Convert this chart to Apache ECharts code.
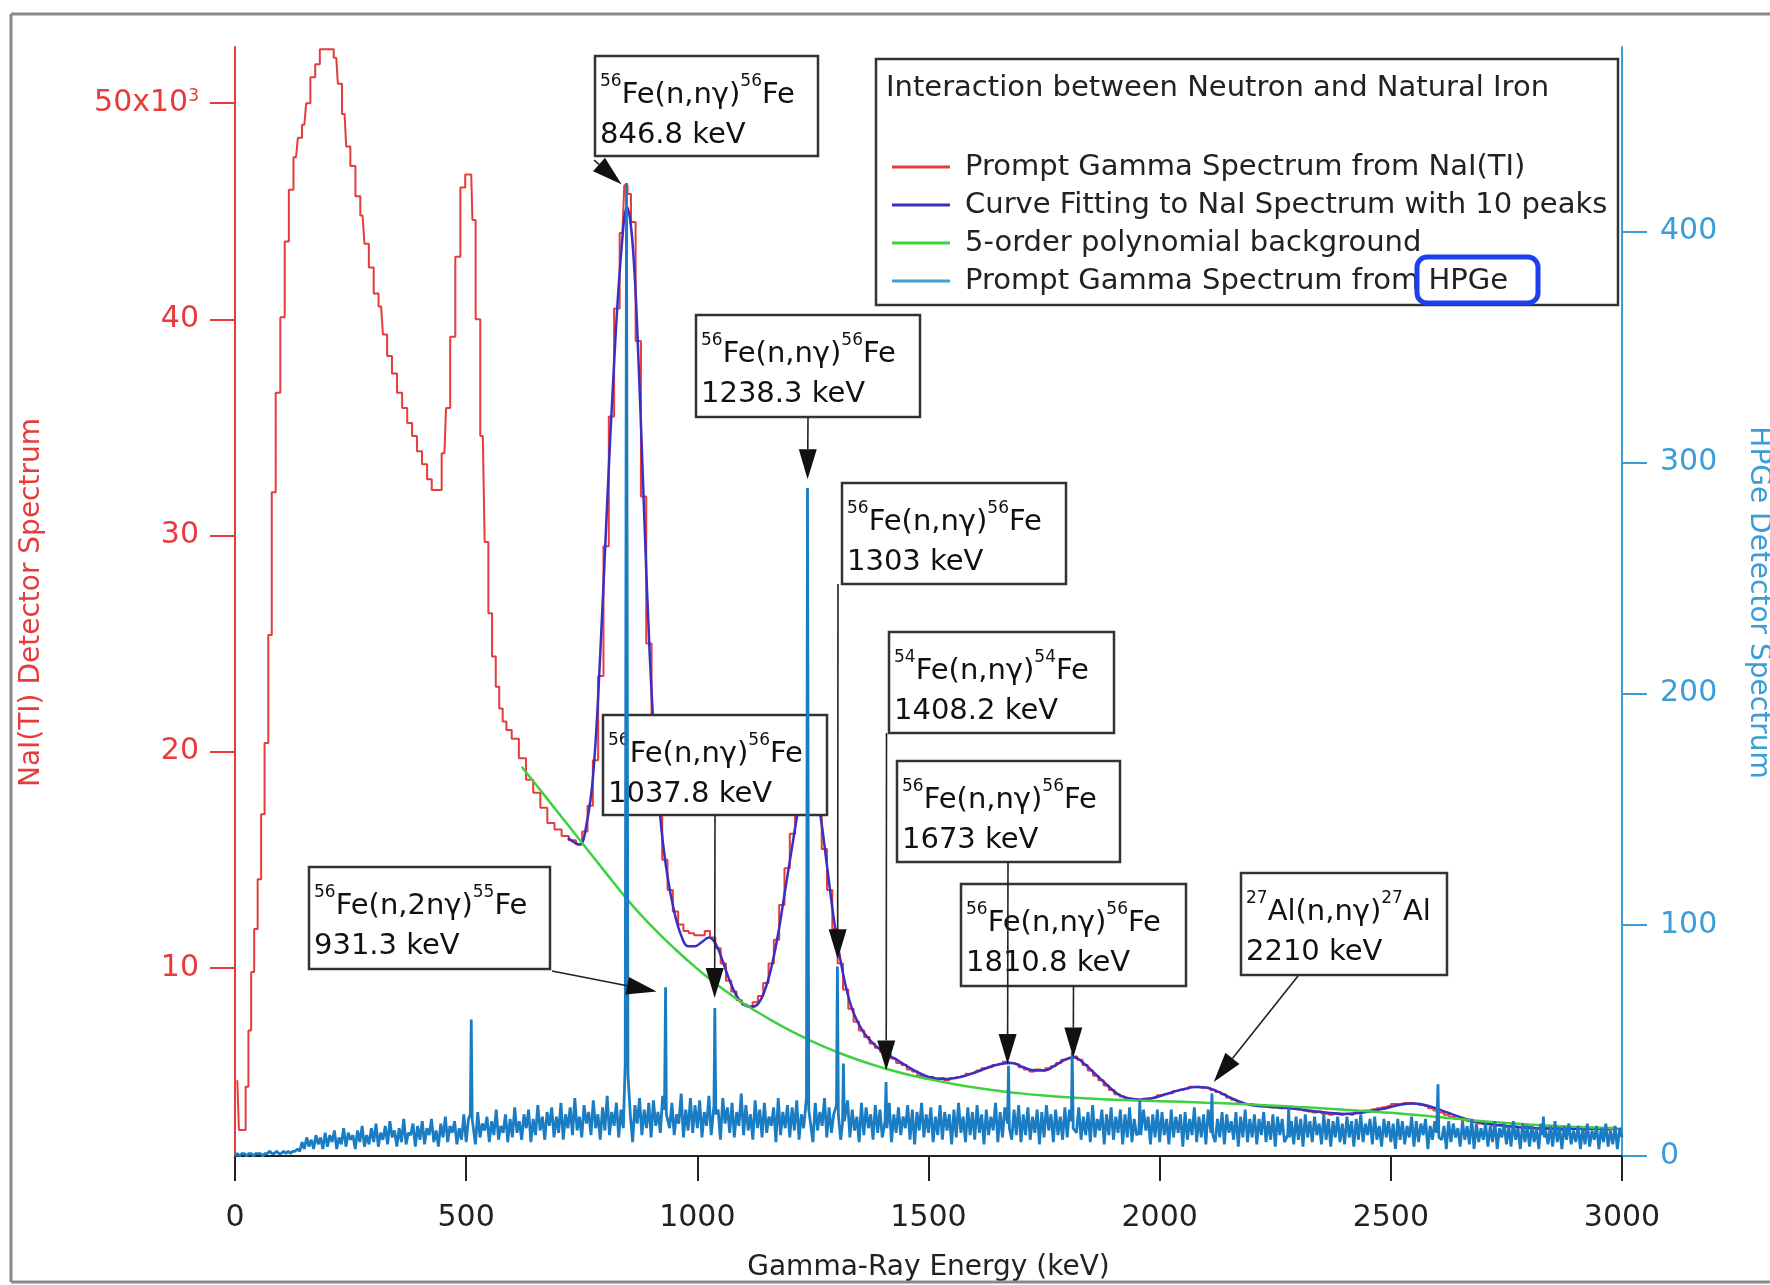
<!DOCTYPE html>
<html>
<head>
<meta charset="utf-8">
<script src="https://cdn.jsdelivr.net/npm/echarts@6/dist/echarts.min.js"></script>
<style>
  html, body { margin: 0; padding: 0; background: #fff; overflow: hidden; }
  #chart { width: 1770px; height: 1285px; }
</style>
</head>
<body>
<div id="chart"></div>
<script>
const FONT = 'DejaVu Sans';
const RED = '#e63c3c';
const FIT = '#3a2fc0';
const GREEN = '#3fd13f';
const CYAN = '#1a7dc4';
const RIGHT = '#3a9dd8';

// NaI(Tl) spectrum, [keV, counts x1000]
const naiData = [
  [5,4.8],[12,2.5],[20,2.5],[26,4.5],[32,7.1],[38,9.8],[45,11.8],[53,14.1],[60,17.1],[68,20.4],
  [76,25.4],[83,32.0],[93,36.6],[103,40.1],[112,43.6],[121,46.0],[132,47.5],[140,48.4],[150,49.0],
  [158,50.0],[168,51.2],[179,51.8],[188,52.5],[198,52.5],[208,52.5],[219,52.1],[226,50.9],[237,49.5],
  [244,48.0],[255,47.1],[266,45.7],[276,44.8],[284,43.5],[295,42.4],[305,41.2],[316,40.6],[324,39.3],
  [334,38.3],[345,37.5],[356,36.6],[367,35.9],[378,35.2],[388,34.6],[399,33.9],[410,33.3],[421,32.6],
  [430,32.1],[441,32.1],[453,33.8],[460,35.9],[471,39.2],[482,42.9],[493,46.1],[503,46.7],[511,46.7],
  [516,44.6],[525,40.0],[536,34.6],[544,29.7],[552,26.4],[560,24.4],[568,23.0],[575,22.0],[583,21.4],
  [591,21.0],[606,20.6],[622,19.7],[637,18.7],[653,18.1],[668,17.4],[683,16.7],[699,16.4],[714,16.1],
  [730,15.9],[745,15.7],[757,16.3],[768,17.5],[780,19.6],[791,23.5],[803,29.5],[814,35.5],[826,40.5],
  [838,44.0],[846,46.2],[852,45.8],[861,44.5],[872,39.0],[884,31.8],[895,25.0],[907,20.2],[918,17.2],
  [930,15.0],[941,13.6],[953,12.6],[964,12.0],[976,11.7],[987,11.6],[999,11.5],[1010,11.5],[1022,11.7],
  [1033,11.4],[1045,10.9],[1056,10.2],[1068,9.4],[1079,8.9],[1091,8.5],[1102,8.3],[1114,8.2],[1125,8.4],
  [1137,8.7],[1148,9.3],[1160,10.2],[1171,11.3],[1183,12.9],[1194,14.6],[1206,16.2],[1217,17.6],
  [1229,18.6],[1240,19.0],[1252,18.4],[1263,17.2],[1275,15.5],[1286,13.6],[1298,11.8],[1309,10.2],
  [1321,9.0],[1332,8.1],[1344,7.5],[1355,7.1],[1367,6.8],[1378,6.5],[1390,6.3],[1401,6.1],[1413,6.0],
  [1424,5.8],[1436,5.6],[1447,5.5],[1459,5.3],[1470,5.2],[1482,5.0],[1494,4.9],[1505,4.95],[1517,4.85],
  [1528,4.9],[1540,4.8],[1551,4.9],[1563,4.95],[1574,5.0],[1586,5.1],[1597,5.15],[1609,5.25],[1620,5.35],
  [1632,5.4],[1643,5.5],[1655,5.55],[1666,5.65],[1678,5.6],[1689,5.55],[1701,5.4],[1712,5.3],[1724,5.2],
  [1735,5.3],[1747,5.25],[1758,5.35],[1770,5.45],[1781,5.6],[1793,5.75],[1804,5.8],[1816,5.9],[1827,5.75],
  [1839,5.5],[1850,5.25],[1862,5.0],[1873,4.8],[1885,4.55],[1896,4.35],[1908,4.15],[1919,4.05],[1931,3.95],
  [1942,3.9],[1954,3.9],[1965,3.95],[1977,3.95],[1988,4.0],[2000,4.1],[2011,4.15],[2023,4.2],[2034,4.3],
  [2046,4.35],[2057,4.4],[2069,4.5],[2080,4.5],[2092,4.45],[2103,4.45],[2115,4.35],[2126,4.25],[2138,4.15],
  [2149,4.0],[2161,3.9],[2172,3.8],[2184,3.7],[2195,3.7],[2207,3.65],[2218,3.6],[2230,3.6],[2241,3.55],
  [2253,3.6],[2264,3.5],[2276,3.55],[2287,3.5],[2299,3.45],[2310,3.4],[2322,3.35],[2333,3.3],[2345,3.35],
  [2356,3.25],[2368,3.2],[2379,3.25],[2391,3.2],[2402,3.25],[2414,3.2],[2425,3.3],[2437,3.3],[2448,3.4],
  [2460,3.45],[2471,3.5],[2483,3.55],[2494,3.6],[2506,3.7],[2517,3.7],[2529,3.75],[2540,3.75],[2552,3.7],
  [2563,3.65],[2575,3.6],[2586,3.5],[2598,3.4],[2609,3.3],[2621,3.2],[2632,3.1],[2644,3.0],[2655,2.95],
  [2667,2.9],[2678,2.85],[2690,2.8],[2701,2.75],[2713,2.8],[2724,2.7],[2736,2.75],[2747,2.65],[2759,2.7],
  [2770,2.65],[2782,2.6],[2793,2.7],[2805,2.6],[2816,2.55],[2828,2.65],[2839,2.6],[2851,2.55],[2862,2.6],
  [2874,2.5],[2885,2.6],[2897,2.55],[2908,2.65],[2920,2.5],[2931,2.6],[2943,2.55],[2954,2.6],[2966,2.5],
  [2977,2.6],[2989,2.55],[3000,2.6]
];

// 10-peak fit, [keV, counts x1000]
const fitData = [
  [720,16.0],[745,15.7],[760,16.6],[775,19.0],[790,24.5],[805,31.5],[820,38.0],[835,43.0],[848,45.2],
  [860,43.5],[872,38.5],[885,31],[897,24.5],[910,19.5],[922,16.5],[935,14.3],[950,12.6],[965,11.5],
  [980,11.0],[995,11.0],[1010,11.2],[1025,11.4],[1040,11.1],[1055,10.3],[1070,9.4],[1085,8.7],[1100,8.3],
  [1115,8.2],[1130,8.3],[1145,8.9],[1160,10.0],[1175,11.6],[1190,13.6],[1205,15.6],[1220,17.5],[1235,18.8],
  [1250,18.6],[1265,17.2],[1280,14.8],[1295,12.3],[1310,10.3],[1325,8.8],[1340,7.8],[1360,7.0],[1385,6.4],
  [1410,6.0],[1435,5.7],[1465,5.3],[1500,4.95],[1535,4.85],[1570,4.95],[1600,5.15],[1630,5.4],[1655,5.55],
  [1680,5.6],[1705,5.4],[1730,5.25],[1750,5.25],[1775,5.5],[1800,5.8],[1815,5.85],[1835,5.6],[1860,5.1],
  [1885,4.6],[1910,4.15],[1935,3.95],[1960,3.9],[1990,4.0],[2020,4.2],[2050,4.38],[2080,4.48],[2100,4.46],
  [2125,4.28],[2150,4.02],[2175,3.78],[2200,3.64],[2240,3.56],[2280,3.5],[2320,3.4],[2360,3.3],[2400,3.24],
  [2440,3.3],[2480,3.46],[2520,3.66],[2550,3.72],[2580,3.62],[2620,3.32],[2660,3.02],[2700,2.82],[2740,2.7],
  [2780,2.62],[2820,2.57],[2880,2.55],[2940,2.55],[2990,2.54]
];

// polynomial background, [keV, counts x1000]
const bgData = [
  [620,19.3],[650,18.5],[700,17.15],[750,15.8],[800,14.45],[850,13.12],[900,11.95],[950,10.9],
  [1000,9.95],[1050,9.1],[1100,8.35],[1150,7.7],[1200,7.1],[1250,6.58],[1300,6.12],[1350,5.72],
  [1400,5.38],[1450,5.09],[1500,4.85],[1550,4.64],[1600,4.46],[1650,4.31],[1700,4.19],[1750,4.09],
  [1800,4.01],[1850,3.95],[1900,3.9],[1950,3.86],[2000,3.83],[2050,3.8],[2100,3.76],[2150,3.72],
  [2200,3.67],[2250,3.62],[2300,3.56],[2350,3.5],[2400,3.43],[2450,3.36],[2500,3.29],[2550,3.2],
  [2600,3.1],[2650,3.0],[2700,2.9],[2750,2.82],[2800,2.75],[2850,2.69],[2900,2.64],[2950,2.6],[2990,2.57]
];

// HPGe continuum, one value per 5 keV from 0 to 3000
const hpgeNoise = [
  0,1,0,1,1,0,1,1,0,1,1,1,0,1,1,2,1,1,2,1,
  1,2,1,2,1,2,2,3,2,6,3,8,4,7,3,9,5,8,3,10,
  4,9,6,11,3,8,5,12,4,10,7,9,3,11,6,13,4,9,5,12,
  6,14,4,10,7,13,5,15,8,11,4,12,6,16,5,10,9,14,4,13,
  7,15,5,12,9,16,6,11,4,14,8,17,6,13,10,15,5,12,7,18,
  6,16,9,13,5,19,8,14,11,17,6,15,9,20,7,13,10,18,6,16,
  8,21,10,15,7,18,12,20,6,16,9,22,11,17,7,19,13,21,8,17,
  10,23,7,18,12,21,9,25,11,17,8,22,14,19,9,24,12,18,7,21,
  11,26,9,19,13,23,8,20,12,27,10,18,6,22,14,25,9,20,12,23,
  8,24,13,19,10,26,7,21,12,23,9,18,14,27,8,20,11,25,10,22,
  12,24,8,19,13,26,9,22,11,20,7,25,14,21,10,23,8,19,13,27,
  9,22,11,18,7,24,12,20,8,23,10,17,13,21,6,25,9,19,12,22,
  8,21,11,24,7,18,12,22,9,20,6,23,11,19,13,25,8,21,10,18,
  12,22,7,19,10,24,8,20,11,17,6,23,9,21,12,18,7,22,10,20,
  8,19,11,23,6,18,10,21,9,17,12,22,7,20,5,19,11,23,8,18,
  10,21,6,17,9,22,7,19,11,18,5,20,8,23,10,17,6,21,9,19,
  7,22,10,18,5,20,9,17,11,23,6,19,8,21,10,16,7,20,9,22,
  6,18,9,21,7,17,10,20,5,19,8,22,11,18,6,20,9,17,7,21,
  8,20,5,18,10,21,7,17,9,19,6,22,8,16,11,20,5,18,9,21,
  7,17,10,20,5,18,8,21,6,16,9,19,7,20,11,17,5,18,8,20,
  6,19,9,16,5,20,8,17,10,18,4,19,7,16,9,21,6,17,8,18,
  5,20,9,17,6,16,8,19,5,18,10,15,7,19,4,17,8,20,6,16,
  8,18,5,16,9,19,6,15,7,18,4,17,9,16,6,19,8,15,5,17,
  7,16,4,18,8,15,6,17,9,14,5,18,7,16,4,15,8,17,6,14,
  5,17,8,15,4,16,7,18,6,14,9,16,5,17,7,13,4,16,8,15,
  6,14,3,16,7,15,5,13,8,17,4,15,6,14,9,16,3,13,7,15,
  5,16,7,13,3,15,6,14,8,12,4,15,7,13,5,16,3,14,6,12,
  7,14,4,13,6,15,3,12,8,14,5,13,4,15,7,12,3,14,6,13,
  4,13,6,12,3,14,7,11,5,13,4,15,6,12,3,13,7,14,5,11,
  6,13,3,12,5,14,4,11,7,13,3,12,6,14,4,11,5,13,3,12,
  8
];

// HPGe lines, [keV, counts]
const hpgePeaks = [
  [509,18],[511,59],[513,16],[844,40],[846.8,421],[850,35],[929,20],[931.3,73],[933,18],
  [1036,22],[1037.8,64],[1040,18],[1236,25],[1238.3,289],[1241,20],[1301,22],[1303,82],[1305,18],
  [1314,14],[1316,40],[1318,15],[1406,15],[1408.2,32],[1410,12],[1671,14],[1673,39],[1675,12],
  [1809,15],[1810.8,45],[1813,12],[1955,10],[1957,24],[1959,9],[2111,10],[2113,27],[2115,9],
  [2277,9],[2279,21],[2281,8],[2599,10],[2602,31],[2604,8],[2828,9],[2830,17],[2832,8]
];

const leftTicks = [10, 20, 30, 40, 50];
const rightTicks = [0, 100, 200, 300, 400];

const seriesNames = [
  'Prompt Gamma Spectrum from NaI(TI)',
  'Curve Fitting to NaI Spectrum with 10 peaks',
  '5-order polynomial background',
  'Prompt Gamma Spectrum from HPGe'
];

// peak annotations
const annText = [
  '{s|56}{m|Fe(n,nγ)}{s|56}{m|Fe}\n{m2|846.8 keV}',
  '{s|56}{m|Fe(n,2nγ)}{s|55}{m|Fe}\n{m2|931.3 keV}',
  '{s|56}{m|Fe(n,nγ)}{s|56}{m|Fe}\n{m2|1037.8 keV}',
  '{s|56}{m|Fe(n,nγ)}{s|56}{m|Fe}\n{m2|1238.3 keV}',
  '{s|56}{m|Fe(n,nγ)}{s|56}{m|Fe}\n{m2|1303 keV}',
  '{s|54}{m|Fe(n,nγ)}{s|54}{m|Fe}\n{m2|1408.2 keV}',
  '{s|56}{m|Fe(n,nγ)}{s|56}{m|Fe}\n{m2|1673 keV}',
  '{s|56}{m|Fe(n,nγ)}{s|56}{m|Fe}\n{m2|1810.8 keV}',
  '{s|27}{m|Al(n,nγ)}{s|27}{m|Al}\n{m2|2210 keV}'
];
const annTargetE = [836, 912, 1037.5, 1238.5, 1303.5, 1408.5, 1671, 1813, 2117];
const annTargetV = [46.25, 8.9, 8.6, 32.6, 10.4, 5.25, 5.55, 5.85, 4.72];

// layout of the boxes: [left, top, width, height], arrow start [x, y]
const annBox = [
  [595, 56, 223, 100], [309, 867, 241, 102], [603, 715, 224, 100],
  [696, 315, 224, 102], [842, 483, 224, 101], [889, 632, 225, 101],
  [897, 761, 223, 101], [961, 884, 225, 102], [1241, 873, 206, 102]
];
const annStart = [
  [594, 160], [552, 971], [715, 815], [808, 417], [838, 584],
  [886.5, 733], [1008, 862], [1073.5, 987], [1298, 976]
];

const hpgeData = [];
hpgeNoise.forEach((v, i) => {
  const e = i * 5;
  if (!hpgePeaks.some(p => Math.abs(p[0] - e) < 3)) hpgeData.push([e, v]);
});
hpgePeaks.forEach(p => hpgeData.push(p));
hpgeData.sort((a, b) => a[0] - b[0]);

const chart = echarts.init(document.getElementById('chart'), null, { width: 1770, height: 1285 });

const option = {
  animation: false,
  backgroundColor: '#fff',
  grid: { left: 235, right: 148, top: 47, bottom: 127, containLabel: false, outerBoundsMode: 'none' },
  legend: {
    show: true,
    data: seriesNames,
    orient: 'vertical',
    left: 887,
    top: 147,
    icon: 'rect',
    itemWidth: 58,
    itemHeight: 3,
    itemGap: 8,
    selectedMode: false,
    z: 6,
    textStyle: { fontFamily: FONT, fontSize: 29, color: '#222', lineHeight: 30, padding: [0, 0, 0, 10] }
  },
  xAxis: {
    type: 'value',
    min: 0,
    max: 3000,
    interval: 500,
    name: 'Gamma-Ray Energy (keV)',
    nameLocation: 'middle',
    nameGap: 96,
    nameTextStyle: { fontFamily: FONT, fontSize: 28, color: '#222' },
    axisLine: { lineStyle: { color: '#222', width: 2 } },
    axisTick: { inside: false, length: 25, lineStyle: { color: '#222', width: 2 } },
    axisLabel: { fontFamily: FONT, fontSize: 30, color: '#222', margin: 45, formatter: v => String(v) },
    splitLine: { show: false }
  },
  yAxis: [
    {
      type: 'value',
      position: 'left',
      min: 1.2,
      max: 52.6,
      name: 'NaI(TI) Detector Spectrum',
      nameLocation: 'middle',
      nameGap: 189,
      nameTextStyle: { fontFamily: FONT, fontSize: 28, color: RED },
      axisLine: { show: true, lineStyle: { color: RED, width: 2 } },
      axisTick: { show: true, length: 25, customValues: leftTicks, lineStyle: { color: RED, width: 2 } },
      axisLabel: {
        customValues: leftTicks,
        margin: 36,
        color: RED,
        fontFamily: FONT,
        fontSize: 30,
        formatter: v => v === 50 ? '{n|50x10}{s|3}' : '{n|' + v + '}',
        rich: {
          n: { fontFamily: FONT, fontSize: 30, color: RED },
          s: { fontFamily: FONT, fontSize: 17, color: RED, verticalAlign: 'top', lineHeight: 14 }
        }
      },
      splitLine: { show: false }
    },
    {
      type: 'value',
      position: 'right',
      min: -0.9,
      max: 479.8,
      name: 'HPGe Detector Spectrum',
      nameLocation: 'middle',
      nameRotate: -90,
      nameGap: 122,
      nameTextStyle: { fontFamily: FONT, fontSize: 28, color: RIGHT },
      axisLine: { show: true, lineStyle: { color: RIGHT, width: 2 } },
      axisTick: { show: true, length: 25, customValues: rightTicks, lineStyle: { color: RIGHT, width: 2 } },
      axisLabel: { customValues: rightTicks, margin: 38, color: RIGHT, fontFamily: FONT, fontSize: 30 },
      splitLine: { show: false }
    }
  ],
  series: [
    {
      name: seriesNames[0], type: 'line', data: naiData, step: 'middle', symbol: 'none',
      lineStyle: { color: RED, width: 2 }, itemStyle: { color: RED }, z: 2
    },
    {
      name: seriesNames[1], type: 'line', data: fitData, smooth: 0.4, symbol: 'none',
      lineStyle: { color: FIT, width: 2.5 }, itemStyle: { color: FIT }, z: 2
    },
    {
      name: seriesNames[2], type: 'line', data: bgData, smooth: 0.5, symbol: 'none',
      lineStyle: { color: GREEN, width: 2.5 }, itemStyle: { color: GREEN }, z: 2
    },
    {
      name: seriesNames[3], type: 'line', yAxisIndex: 1, data: hpgeData, symbol: 'none',
      lineStyle: { color: CYAN, width: 2.8 }, itemStyle: { color: '#3aa0da' }, z: 10
    }
  ]
};

chart.setOption(option);

function arrow(start, tip) {
  const dx = tip[0] - start[0];
  const dy = tip[1] - start[1];
  const len = Math.sqrt(dx * dx + dy * dy);
  const ux = dx / len, uy = dy / len;
  const head = Math.min(30, len);
  const bx = tip[0] - ux * head, by = tip[1] - uy * head;
  const w = 9;
  return [
    {
      type: 'line', z: 12, silent: true,
      shape: { x1: start[0], y1: start[1], x2: bx, y2: by },
      style: { stroke: '#222', lineWidth: 1.6 }
    },
    {
      type: 'polygon', z: 12, silent: true,
      shape: { points: [tip, [bx - uy * w, by + ux * w], [bx + uy * w, by - ux * w]] },
      style: { fill: '#111' }
    }
  ];
}

const richBox = {
  s: { fontFamily: FONT, fontSize: 17, lineHeight: 10, verticalAlign: 'top', fill: '#111' },
  m: { fontFamily: FONT, fontSize: 29, lineHeight: 44, fill: '#111' },
  m2: { fontFamily: FONT, fontSize: 29, lineHeight: 36, fill: '#111' }
};

const frameStyle = { stroke: '#8a8a8a', lineWidth: 3 };
const graphics = [
  { type: 'line', z: 1, silent: true, shape: { x1: 11, y1: 14, x2: 1770, y2: 14 }, style: frameStyle },
  { type: 'line', z: 1, silent: true, shape: { x1: 11, y1: 14, x2: 11, y2: 1282 }, style: frameStyle },
  { type: 'line', z: 1, silent: true, shape: { x1: 11, y1: 1282, x2: 1770, y2: 1282 }, style: frameStyle },
  {
    type: 'rect', z: 5, silent: true,
    shape: { x: 876, y: 59, width: 742, height: 246 },
    style: { fill: '#fff', stroke: '#333', lineWidth: 2.5 }
  },
  {
    type: 'text', z: 6, silent: true,
    style: {
      x: 886, y: 88, text: 'Interaction between Neutron and Natural Iron',
      fontFamily: FONT, fontSize: 29, fill: '#222', verticalAlign: 'middle'
    }
  },
  {
    type: 'rect', z: 7, silent: true,
    shape: { x: 1417, y: 257, width: 121, height: 46, r: 10 },
    style: { fill: 'none', stroke: '#1e3ff0', lineWidth: 5 }
  }
];

annText.forEach((txt, i) => {
  const tip = chart.convertToPixel({ xAxisIndex: 0, yAxisIndex: 0 }, [annTargetE[i], annTargetV[i]]);
  arrow(annStart[i], tip).forEach(g => graphics.push(g));
});
annText.forEach((txt, i) => {
  const b = annBox[i];
  graphics.push({
    type: 'rect', z: 8, silent: true,
    shape: { x: b[0], y: b[1], width: b[2], height: b[3] },
    style: { fill: '#fff', stroke: '#333', lineWidth: 2.5 }
  });
  graphics.push({
    type: 'text', z: 9, silent: true,
    style: { x: b[0] + 5, y: b[1] + 17, text: txt, rich: richBox, align: 'left', verticalAlign: 'top' }
  });
});

chart.setOption({ graphic: graphics });
</script>
</body>
</html>
